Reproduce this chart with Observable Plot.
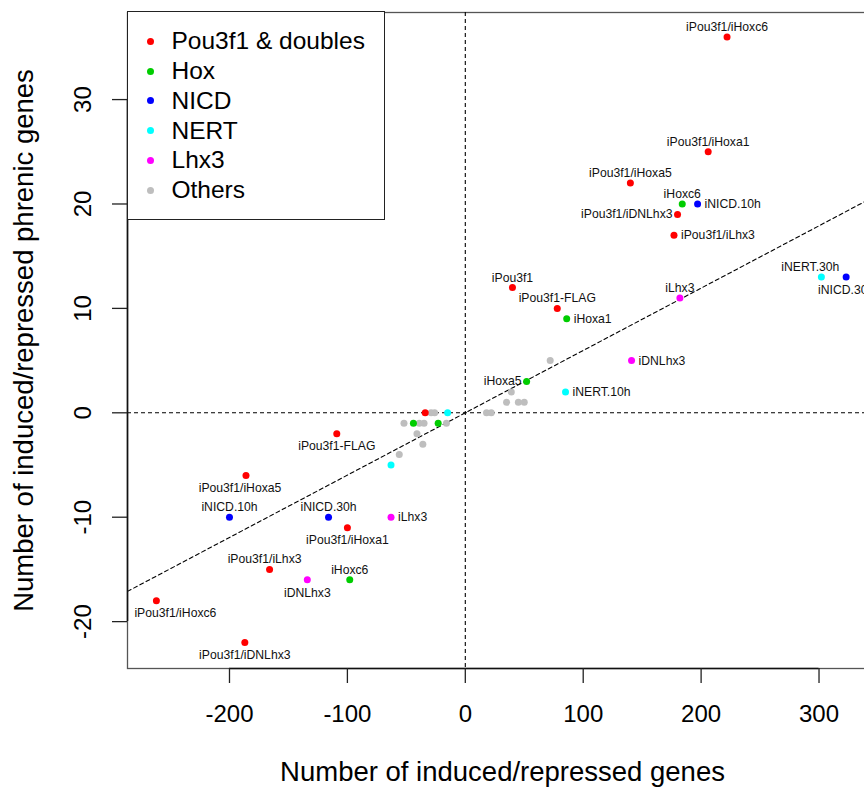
<!DOCTYPE html>
<html><head><meta charset="utf-8">
<script src="https://cdn.jsdelivr.net/npm/d3@7"></script>
<script src="https://cdn.jsdelivr.net/npm/@observablehq/plot@0.6"></script>
<style>
html,body{margin:0;padding:0;background:#fff;overflow:hidden;}
#wrap{position:relative;width:864px;height:787px;overflow:hidden;}
#wrap svg{max-width:none !important;}
#legend{position:absolute;left:127px;top:11px;width:258px;height:209px;box-sizing:border-box;border:1.5px solid #222;background:#fff;font-family:"Liberation Sans",Arial,sans-serif;}
.item{position:absolute;left:0;height:30px;line-height:30px;font-size:24.5px;color:#000;white-space:nowrap;}
.dot{position:absolute;left:18.5px;top:11.5px;width:7px;height:7px;border-radius:50%;}
.lab{position:absolute;left:43.5px;top:0;}
</style></head><body><div id="wrap"></div>
<script>
// ---- data ----
const groups = ["Pou3f1 & doubles", "Hox", "NICD", "NERT", "Lhx3", "Others"];
const groupColors = ["#FF0000", "#00CD00", "#0000FF", "#00FFFF", "#FF00FF", "#BEBEBE"];

const sampleLabels = [
  "iPou3f1/iHoxc6", "iPou3f1/iHoxa1", "iPou3f1/iHoxa5", "iPou3f1/iDNLhx3", "iPou3f1/iLhx3",
  "iPou3f1", "iPou3f1-FLAG", "", "iPou3f1-FLAG", "iPou3f1/iHoxa5", "iPou3f1/iHoxa1",
  "iPou3f1/iLhx3", "iPou3f1/iHoxc6", "iPou3f1/iDNLhx3",
  "iHoxc6", "iHoxa1", "iHoxa5", "", "", "iHoxc6",
  "iNICD.10h", "iNICD.30h", "iNICD.10h", "iNICD.30h",
  "iNERT.30h", "iNERT.10h", "", "",
  "iLhx3", "iDNLhx3", "iLhx3", "iDNLhx3",
  "", "", "", "", "", "", "", "", "", "", "", "", "", "", "", ""
];
const sampleGroups = [
  "Pou3f1 & doubles", "Pou3f1 & doubles", "Pou3f1 & doubles", "Pou3f1 & doubles", "Pou3f1 & doubles",
  "Pou3f1 & doubles", "Pou3f1 & doubles", "Pou3f1 & doubles", "Pou3f1 & doubles", "Pou3f1 & doubles", "Pou3f1 & doubles",
  "Pou3f1 & doubles", "Pou3f1 & doubles", "Pou3f1 & doubles",
  "Hox", "Hox", "Hox", "Hox", "Hox", "Hox",
  "NICD", "NICD", "NICD", "NICD",
  "NERT", "NERT", "NERT", "NERT",
  "Lhx3", "Lhx3", "Lhx3", "Lhx3",
  "Others", "Others", "Others", "Others", "Others", "Others", "Others", "Others",
  "Others", "Others", "Others", "Others", "Others", "Others", "Others", "Others"
];
// Number of induced/repressed genes
const inducedGenes = [
  222, 206, 140, 180, 177,
  40, 78, -34, -109, -186, -100,
  -166, -262, -187,
  184, 86, 52, -44, -23, -98,
  197, 323, -200, -116,
  302, 85, -15, -63,
  182, 141, -63, -134,
  -29, -26, -52, -39, -35, -16, -41, -36, -56, 18, 22, 35, 45, 50, 39, 72
];
// Number of induced/repressed phrenic genes
const phrenicGenes = [
  36, 25, 22, 19, 17,
  12, 10, 0, -2, -6, -11,
  -15, -18, -22,
  20, 9, 3, -1, -1, -16,
  20, 13, -10, -10,
  13, 2, 0, -5,
  11, 5, -10, -16,
  0, 0, -1, -1, -1, -1, -2, -3, -4, 0, 0, 1, 1, 1, 2, 5
];
const xTicks = [-200, -100, 0, 100, 200, 300];
const yTicks = [-20, -10, 0, 10, 20, 30];
const fitSlope = 0.0597;
const fitIntercept = 0;

// label placement (style): top / bottom / left / right, with small nudges
const labelSides = [
  "top", "top", "top", "left", "right",
  "top", "top", "", "bottom", "bottomL", "bottom",
  "topL", "bottomR", "bottom",
  "top", "right", "left", "", "", "top",
  "right", "bottom", "top", "top",
  "topL2", "right", "", "",
  "top", "right", "right", "bottom"
];

// ---- build ----
const xDomain = [-286.5, 349.6];
const yDomain = [-24.49, 38.34];
const rows = inducedGenes.map((x, i) => ({
  x, y: phrenicGenes[i], label: sampleLabels[i], group: sampleGroups[i], side: labelSides[i] || ""
}));
const others = rows.filter(d => d.group === "Others");
const colored = rows.filter(d => d.group !== "Others");
const fitData = xDomain.map(x => ({x, y: fitIntercept + fitSlope * x}));
const fmt = d => `${d}`;
const dash = "4,3";
const font = "'Liberation Sans', Arial, Helvetica, sans-serif";
const lab = (side, opts) => Plot.text(rows.filter(d => d.side === side),
  {x: "x", y: "y", text: "label", fontSize: 12.2, fill: "#111", ...opts});

const chart = Plot.plot({
  width: 877,
  height: 787,
  marginLeft: 127,
  marginRight: 0,
  marginTop: 12,
  marginBottom: 119,
  style: {fontFamily: font, background: "#fff", color: "#000"},
  x: {domain: xDomain},
  y: {domain: yDomain},
  color: {domain: groups, range: groupColors},
  marks: [
    Plot.frame({stroke: "#555", strokeWidth: 1.3}),
    Plot.ruleY([0], {stroke: "#000", strokeWidth: 1.1, strokeDasharray: dash}),
    Plot.ruleX([0], {stroke: "#000", strokeWidth: 1.1, strokeDasharray: dash}),
    Plot.line(fitData, {x: "x", y: "y", stroke: "#000", strokeWidth: 1.1, strokeDasharray: dash, clip: true}),
    Plot.ruleY([yDomain[0]], {x1: xTicks[0], x2: xTicks[xTicks.length - 1], stroke: "#111", strokeWidth: 1.6}),
    Plot.ruleX([xDomain[0]], {y1: yTicks[0], y2: yTicks[yTicks.length - 1], stroke: "#111", strokeWidth: 1.6}),
    Plot.axisX(xTicks, {tickSize: 15, tickPadding: 21, fontSize: 24, label: null, tickFormat: fmt, stroke: "#222", strokeWidth: 1.3, fill: "#000"}),
    Plot.axisX([], {label: "Number of induced/repressed genes", labelAnchor: "center", labelArrow: "none", labelOffset: 112.7, fontSize: 27.5, tickSize: 0, fill: "#000"}),
    Plot.axisY(yTicks, {tickSize: 15, tickPadding: 21.6, tickRotate: -90, fontSize: 24, label: null, tickFormat: fmt, stroke: "#222", strokeWidth: 1.3, fill: "#000"}),
    Plot.axisY([], {label: "Number of induced/repressed phrenic genes", labelAnchor: "center", labelArrow: "none", labelOffset: 114, fontSize: 27.5, tickSize: 0, fill: "#000"}),
    Plot.dot(others, {x: "x", y: "y", fill: "group", r: 3.5, stroke: null, clip: true}),
    Plot.dot(colored, {x: "x", y: "y", fill: "group", r: 3.5, stroke: null, clip: true}),
    lab("top", {lineAnchor: "bottom", dy: -6}),
    lab("topL", {lineAnchor: "bottom", dy: -6, dx: -5}),
    lab("topL2", {lineAnchor: "bottom", dy: -6, dx: -11}),
    lab("bottom", {lineAnchor: "top", dy: 8}),
    lab("bottomL", {lineAnchor: "top", dy: 8, dx: -6}),
    lab("bottomR", {lineAnchor: "top", dy: 8, dx: 19}),
    lab("left", {textAnchor: "end", dx: -5}),
    lab("right", {textAnchor: "start", dx: 7})
  ]
});

const wrap = document.getElementById("wrap");
wrap.appendChild(chart);

// legend box (HTML overlay, top-left inside the plot frame)
const legend = document.createElement("div");
legend.id = "legend";
groups.forEach((g, i) => {
  const item = document.createElement("div");
  item.className = "item";
  item.style.top = (29.2 + i * 29.8 - 15) + "px";
  const dot = document.createElement("span");
  dot.className = "dot";
  dot.style.background = groupColors[i];
  const t = document.createElement("span");
  t.className = "lab";
  t.textContent = g;
  item.appendChild(dot);
  item.appendChild(t);
  legend.appendChild(item);
});
wrap.appendChild(legend);
</script></body></html>
